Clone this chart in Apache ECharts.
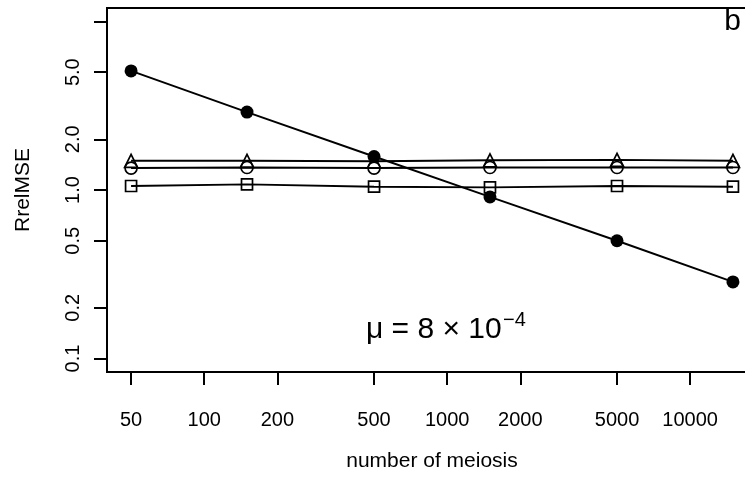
<!DOCTYPE html>
<html>
<head>
<meta charset="utf-8">
<script src="https://cdn.jsdelivr.net/npm/echarts@6/dist/echarts.min.js"></script>
<style>
html,body{margin:0;padding:0;background:#fff}
#main{width:745px;height:477px}
</style>
</head>
<body>
<div id="main"></div>
<script>
// number of meiosis (x) and RrelMSE of the four estimators (y)
var meioses = [50, 150, 500, 1500, 5000, 15000];
var filledDots = [5.09, 2.90, 1.58, 0.91, 0.50, 0.285];
var triangles = [1.49, 1.49, 1.48, 1.50, 1.51, 1.49];
var openDots = [1.35, 1.36, 1.35, 1.36, 1.36, 1.36];
var squares = [1.056, 1.08, 1.046, 1.037, 1.056, 1.046];

// axis ticks
var xTicks = [50, 100, 200, 500, 1000, 2000, 5000, 10000];
var yTicks = [0.1, 0.2, 0.5, 1, 2, 5, 10];
var yLabels = [0.1, 0.2, 0.5, 1, 2, 5];

var FONT = "'Liberation Sans', Arial, Helvetica, sans-serif";

function pairs(vals) {
  var out = [];
  for (var i = 0; i < meioses.length; i++) {
    out.push([meioses[i], vals[i]]);
  }
  return out;
}

function mkSeries(name, vals, symbol, size, filled) {
  return {
    name: name,
    type: 'line',
    data: pairs(vals),
    symbol: symbol,
    symbolSize: size,
    showSymbol: true,
    animation: false,
    lineStyle: { color: '#000', width: 1.9 },
    itemStyle: {
      color: filled ? '#000' : 'rgba(0,0,0,0)',
      borderColor: '#000',
      borderWidth: filled ? 0 : 1.7
    },
    emphasis: { disabled: true }
  };
}

var chart = echarts.init(document.getElementById('main'));
chart.setOption({
  backgroundColor: '#fff',
  animation: false,
  grid: {
    left: 107, top: 8, right: -12, bottom: 105,
    show: true,
    borderColor: '#000',
    borderWidth: 2,
    backgroundColor: 'rgba(0,0,0,0)',
    containLabel: false,
    outerBoundsMode: 'none'
  },
  xAxis: {
    type: 'log',
    logBase: 10,
    min: 39.8,
    max: 18840,
    name: 'number of meiosis',
    nameLocation: 'middle',
    nameGap: 79,
    nameTextStyle: { fontSize: 21, color: '#000', fontFamily: FONT },
    axisLine: { show: false },
    axisTick: { show: true, customValues: xTicks, length: 13, lineStyle: { color: '#000', width: 2 } },
    axisLabel: {
      customValues: xTicks,
      margin: 38,
      fontSize: 20,
      color: '#000',
      fontFamily: FONT,
      formatter: function (v) { return String(Math.round(v)); }
    },
    splitLine: { show: false },
    minorTick: { show: false }
  },
  yAxis: {
    type: 'log',
    logBase: 10,
    min: 0.0832,
    max: 12.02,
    name: 'RrelMSE',
    nameLocation: 'middle',
    nameGap: 73,
    nameTextStyle: { fontSize: 21, color: '#000', fontFamily: FONT },
    axisLine: { show: false },
    axisTick: { show: true, customValues: yTicks, length: 13, lineStyle: { color: '#000', width: 2 } },
    axisLabel: {
      customValues: yLabels,
      rotate: 90,
      margin: 24,
      fontSize: 20,
      color: '#000',
      fontFamily: FONT,
      formatter: function (v) { return Number(v).toFixed(1); }
    },
    splitLine: { show: false },
    minorTick: { show: false }
  },
  graphic: [
    {
      type: 'text', x: 366, y: 330,
      style: { text: 'μ = 8 × 10', font: '30px ' + FONT, fill: '#000',
               textAlign: 'left', textVerticalAlign: 'middle', align: 'left', verticalAlign: 'middle' }
    },
    {
      type: 'text', x: 503, y: 320,
      style: { text: '−4', font: '20px ' + FONT, fill: '#000',
               textAlign: 'left', textVerticalAlign: 'middle', align: 'left', verticalAlign: 'middle' }
    },
    {
      type: 'text', x: 741, y: 22,
      style: { text: 'b', font: '30px ' + FONT, fill: '#000',
               textAlign: 'right', textVerticalAlign: 'middle', align: 'right', verticalAlign: 'middle' }
    }
  ],
  series: [
    mkSeries('filled', filledDots, 'circle', 13, true),
    mkSeries('triangle', triangles, 'triangle', 13, false),
    mkSeries('open circle', openDots, 'circle', 12, false),
    mkSeries('square', squares, 'rect', 11, false)
  ]
});
</script>
</body>
</html>
